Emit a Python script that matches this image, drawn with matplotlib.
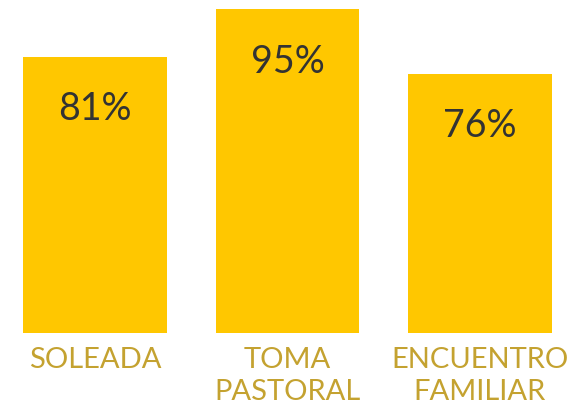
import matplotlib
matplotlib.use("Agg")
import matplotlib.pyplot as plt
import numpy as np

# --- Data ---
categories = ['SOLEADA', 'TOMA\nPASTORAL', 'ENCUENTRO\nFAMILIAR']
values = [81, 95, 76]

bar_color = '#FFC700'
label_color = '#C4A230'
value_color = '#333333'

plt.rcParams['font.family'] = ['Lato', 'DejaVu Sans']

fig = plt.figure(figsize=(5.8, 4.04), dpi=100)
ax = fig.add_axes([0, 71 / 404, 1, 333 / 404])

x = np.arange(len(categories))
bars = ax.bar(x, values, width=0.748, color=bar_color)

for bar, v in zip(bars, values):
    ax.annotate(f'{v}%',
                xy=(bar.get_x() + bar.get_width() / 2, bar.get_height()),
                xytext=(0, -38), textcoords='offset points',
                ha='center', va='center', fontsize=27, color=value_color)

ax.set_xlim(-0.494, 2.52)
ax.set_ylim(0, 97.6)
ax.set_xticks(x, categories)
ax.tick_params(axis='x', length=0, pad=10, labelsize=21, labelcolor=label_color)
for lbl in ax.get_xticklabels():
    lbl.set_linespacing(1.3)
ax.set_yticks([])
for s in ax.spines.values():
    s.set_visible(False)

fig.savefig('out.png', dpi=100)
